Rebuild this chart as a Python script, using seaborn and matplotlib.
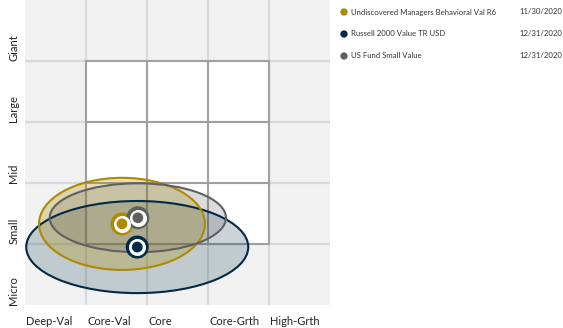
import matplotlib
matplotlib.use("Agg")
import matplotlib.pyplot as plt
from matplotlib.patches import Ellipse, Rectangle
import seaborn as sns
import pandas as pd

# Holdings-based style box: fund, index and category centroids with their spread
funds = ["Undiscovered Managers Behavioral Val R6",
         "Russell 2000 Value TR USD",
         "US Fund Small Value"]
dates = ["11/30/2020", "12/31/2020", "12/31/2020"]
style_x = [1.59, 1.84, 1.85]      # value-growth score
size_y = [1.33, 0.95, 1.43]       # market-cap score
spread_w = [2.72, 3.64, 2.89]     # ellipse width (style spread)
spread_h = [1.51, 1.51, 1.13]     # ellipse height (size spread)
colors = ["#AD8A00", "#002A45", "#606060"]
fill_alpha = [0.28, 0.20, 0.22]

style_labels = ["Deep-Val", "Core-Val", "Core", "Core-Grth", "High-Grth"]
size_labels = ["Micro", "Small", "Mid", "Large", "Giant"]

df = pd.DataFrame({"fund": funds, "x": style_x, "y": size_y})
palette = dict(zip(funds, colors))

sns.set_theme(style="white")
plt.rcParams["font.family"] = ["Lato", "DejaVu Sans"]

W, H = 563, 328
fig = plt.figure(figsize=(W / 100, H / 100), dpi=100)
fig.patch.set_facecolor("white")

ax = fig.add_axes([25 / W, (H - 305) / H, 305 / W, 305 / H])
ax.set_xlim(0, 5)
ax.set_ylim(0, 5)
ax.set_facecolor("#F2F2F2")
for s in ax.spines.values():
    s.set_visible(False)
ax.set_xticks([])
ax.set_yticks([])

# background grid
for v in range(1, 5):
    ax.axvline(v, color="#D9D9D9", lw=1.6, zorder=1)
    ax.axhline(v, color="#D9D9D9", lw=1.6, zorder=1)

# white 3x3 style box
ax.add_patch(Rectangle((1, 1), 3, 3, facecolor="white", edgecolor="none", zorder=2))
for v in range(1, 5):
    ax.plot([v, v], [1, 4], color="#A0A0A0", lw=1.5, zorder=3, solid_capstyle="projecting")
    ax.plot([1, 4], [v, v], color="#A0A0A0", lw=1.5, zorder=3, solid_capstyle="projecting")

# ownership zones
order = [1, 0, 2]
for k, i in enumerate(order):
    ax.add_patch(Ellipse((style_x[i], size_y[i]), spread_w[i], spread_h[i],
                         facecolor=colors[i], alpha=fill_alpha[i],
                         edgecolor="none", zorder=4 + k))
for k, i in enumerate(order):
    ax.add_patch(Ellipse((style_x[i], size_y[i]), spread_w[i], spread_h[i],
                         facecolor="none", edgecolor=colors[i], lw=1.5,
                         zorder=8 + k))

# centroid markers: colored ring, white ring, colored core
sns.scatterplot(data=df, x="x", y="y", hue="fund", palette=palette, s=275,
                linewidth=0, legend=False, ax=ax, zorder=12)
sns.scatterplot(data=df, x="x", y="y", color="white", s=150,
                linewidth=0, legend=False, ax=ax, zorder=13)
sns.scatterplot(data=df, x="x", y="y", hue="fund", palette=palette, s=60,
                linewidth=0, legend=False, ax=ax, zorder=14)
ax.set_xlabel("")
ax.set_ylabel("")

# axis labels aligned to band edges
for i, lab in enumerate(style_labels):
    ax.annotate(lab, xy=(i, 0), xycoords="data", xytext=(1, -8),
                textcoords="offset points", ha="left", va="top",
                fontsize=8, color="#222222", annotation_clip=False)
for i, lab in enumerate(size_labels):
    ax.annotate(lab, xy=(0, i), xycoords="data", xytext=(-8, 0),
                textcoords="offset points", ha="center", va="bottom",
                rotation=90, fontsize=8, color="#222222", annotation_clip=False)

# legend
lax = fig.add_axes([0, 0, 1, 1])
lax.set_xlim(0, W)
lax.set_ylim(H, 0)
lax.axis("off")
leg_y = [12, 34, 56]
leg_df = pd.DataFrame({"fund": funds, "x": [344] * 3, "y": leg_y})
sns.scatterplot(data=leg_df, x="x", y="y", hue="fund", palette=palette, s=28,
                linewidth=0, legend=False, ax=lax)
lax.set_xlabel("")
lax.set_ylabel("")
for f, d, yy in zip(funds, dates, leg_y):
    lax.text(351, yy, f, ha="left", va="center", fontsize=5.6, color="#333333")
    lax.text(519, yy, d, ha="left", va="center", fontsize=5.6, color="#333333")

fig.savefig("out.png", dpi=100)
